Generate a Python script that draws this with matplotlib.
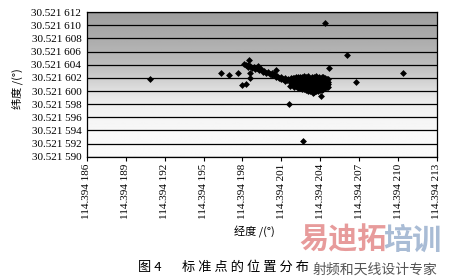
import numpy as np
import matplotlib
matplotlib.use("Agg")
import matplotlib.pyplot as plt

plt.rcParams['font.family'] = ['Liberation Serif', 'Noto Sans CJK SC', 'DejaVu Sans']

# 114.394 xxx / 30.521 xxx, stored as the last digits (micro-degrees)
LON_BASE = 114.394
LAT_BASE = 30.521

# scattered single points
lone_lon = [190.87, 196.36, 197.00, 197.65, 198.53, 198.60, 198.55, 197.96, 198.27,
            200.62, 204.35, 206.03, 204.64, 210.42, 206.73, 204.07, 203.46, 201.62, 202.68]
lone_lat = [601.77, 602.68, 602.42, 602.68, 604.75, 602.77, 602.00, 600.90, 601.05,
            603.18, 610.37, 605.42, 603.53, 602.77, 601.31, 599.23, 599.64, 598.01, 592.43]

# the tail going up-left from the main group
band_lon = [198.10, 198.25, 198.40, 198.45, 198.60, 198.75, 198.90, 199.00, 199.15, 199.30,
            199.45, 199.55, 199.70, 199.85, 200.00, 200.10, 200.25, 200.40, 200.55, 200.70,
            200.85, 201.00, 201.10, 201.25, 201.40, 201.50, 199.20, 200.30, 200.95, 201.30]
band_lat = [604.05, 603.90, 604.00, 603.70, 603.80, 603.55, 603.65, 603.35, 603.45, 603.15,
            603.30, 602.95, 603.05, 602.75, 602.85, 602.55, 602.40, 602.55, 602.20, 602.30,
            602.00, 602.10, 601.80, 601.90, 601.65, 601.85, 603.75, 602.80, 601.75, 601.55]

# the dense main group
blob_lon = [201.70, 201.72, 201.68, 201.75,
            201.85, 201.87, 201.83, 201.86,
            202.00, 202.02, 201.98, 202.03, 202.00,
            202.15, 202.17, 202.13, 202.16, 202.15,
            202.30, 202.28, 202.32, 202.30, 202.27,
            202.45, 202.47, 202.43, 202.46, 202.45, 202.44,
            202.60, 202.62, 202.58, 202.61, 202.60, 202.63,
            202.75, 202.77, 202.73, 202.76, 202.75, 202.74,
            202.90, 202.88, 202.92, 202.90, 202.87, 202.91,
            203.05, 203.07, 203.03, 203.06, 203.05, 203.04, 203.06,
            203.20, 203.22, 203.18, 203.21, 203.20, 203.17,
            203.35, 203.37, 203.33, 203.36, 203.35, 203.34, 203.36,
            203.50, 203.48, 203.52, 203.50, 203.47, 203.51, 203.50,
            203.65, 203.67, 203.63, 203.66, 203.65, 203.64, 203.66,
            203.80, 203.82, 203.78, 203.80, 203.83, 203.79,
            203.95, 203.97, 203.93, 203.96, 203.95, 203.94,
            204.10, 204.08, 204.12, 204.10, 204.07, 204.11,
            204.25, 204.27, 204.23, 204.26, 204.25, 204.24,
            204.40, 204.38, 204.42, 204.40, 204.37,
            204.52, 204.54, 204.50, 204.53,
            204.62, 204.60, 204.63, 204.60]
blob_lat = [600.80, 601.20, 601.60, 601.90,
            601.00, 601.40, 601.75, 602.00,
            600.60, 601.00, 601.40, 601.80, 602.00,
            600.75, 601.15, 601.55, 601.90, 602.10,
            600.50, 600.90, 601.30, 601.70, 602.10,
            600.45, 600.85, 601.25, 601.65, 602.00, 602.20,
            600.30, 600.70, 601.10, 601.50, 601.90, 602.20,
            600.35, 600.75, 601.15, 601.55, 601.95, 602.25,
            600.20, 600.60, 601.00, 601.40, 601.80, 602.20,
            600.05, 600.45, 600.85, 601.25, 601.65, 602.00, 602.25,
            600.00, 600.40, 600.80, 601.20, 601.60, 602.00,
            599.95, 600.25, 600.65, 601.05, 601.45, 601.85, 602.20,
            599.90, 600.30, 600.70, 601.10, 601.50, 601.90, 602.20,
            600.05, 600.45, 600.85, 601.25, 601.65, 602.00, 602.25,
            600.00, 600.40, 600.80, 601.20, 601.60, 602.00,
            600.15, 600.55, 600.95, 601.35, 601.75, 602.10,
            600.20, 600.60, 601.00, 601.40, 601.80, 602.10,
            600.35, 600.75, 601.15, 601.55, 601.90, 602.15,
            600.40, 600.80, 601.20, 601.60, 601.90,
            600.55, 600.95, 601.35, 601.75,
            600.60, 601.00, 601.40, 601.80]

xtick_micro = [186, 189, 192, 195, 198, 201, 204, 207, 210, 213]
xtick_labels = ['114.394 186', '114.394 189', '114.394 192', '114.394 195', '114.394 198',
                '114.394 201', '114.394 204', '114.394 207', '114.394 210', '114.394 213']
ytick_micro = [590, 592, 594, 596, 598, 600, 602, 604, 606, 608, 610, 612]
ytick_labels = ['30.521 590', '30.521 592', '30.521 594', '30.521 596', '30.521 598',
                '30.521 600', '30.521 602', '30.521 604', '30.521 606', '30.521 608',
                '30.521 610', '30.521 612']

all_lon = LON_BASE + np.array(lone_lon + band_lon + blob_lon) * 1e-6
all_lat = LAT_BASE + np.array(lone_lat + band_lat + blob_lat) * 1e-6
xticks = LON_BASE + np.array(xtick_micro) * 1e-6
yticks = LAT_BASE + np.array(ytick_micro) * 1e-6

fig = plt.figure(figsize=(4.5, 2.8), dpi=100)
ax = fig.add_axes([0.193, 0.44, 0.778, 0.517])

# grey shading of the plot area, dark at top and fading to white
frac = np.linspace(0, 1, 200)
shade = np.interp(frac, [0.0, 0.18, 0.36, 0.45, 0.55, 0.64, 0.82, 1.0],
                  [250, 248, 240, 225, 205, 188, 172, 158]) / 255.0
ax.imshow(shade[::-1].reshape(-1, 1), cmap='gray', vmin=0, vmax=1, aspect='auto',
          extent=[0, 1, 0, 1], transform=ax.transAxes, zorder=0, interpolation='bilinear')

for yt in yticks:
    ax.axhline(yt, color='black', lw=0.9, zorder=1)

ax.plot(all_lon, all_lat, 'D', color='black', markersize=3.5, markeredgewidth=0, zorder=3)

ax.set_xlim(xticks[0], xticks[-1])
ax.set_ylim(yticks[0], yticks[-1])
ax.set_xticks(xticks)
ax.set_xticklabels(xtick_labels, rotation=90, fontsize=8)
ax.set_yticks(yticks)
ax.set_yticklabels(ytick_labels, fontsize=8)
ax.tick_params(axis='x', length=3, width=0.8, direction='out', pad=2)
ax.tick_params(axis='y', length=0, pad=4)
for sp in ax.spines.values():
    sp.set_color('black')
    sp.set_linewidth(0.9)

cjk = ['Noto Sans CJK SC', 'DejaVu Sans']
fig.text(0.566, 0.17, '经度 /(°)', ha='center', va='center', fontsize=8, family=cjk)
fig.text(0.038, 0.685, '纬度 /(°)', ha='center', va='center', fontsize=8,
         rotation=90, family=cjk)
fig.text(0.307, 0.046, '图 4', ha='left', va='center', fontsize=9.5, family=cjk)
fig.text(0.405, 0.046, '标 准 点 的 位 置 分 布', ha='left', va='center', fontsize=9.5,
         family=cjk)

# watermark
fig.text(0.665, 0.145, '易迪拓', ha='left', va='center', fontsize=21, family=cjk,
         color='#e07a7a', alpha=0.75, weight='bold')
fig.text(0.851, 0.145, '培训', ha='left', va='center', fontsize=21, family=cjk,
         color='#8da6c8', alpha=0.75, weight='bold')
fig.text(0.695, 0.038, '射频和天线设计专家', ha='left', va='center', fontsize=10,
         family=cjk, color='#555555')

fig.savefig('out.png', dpi=100)
